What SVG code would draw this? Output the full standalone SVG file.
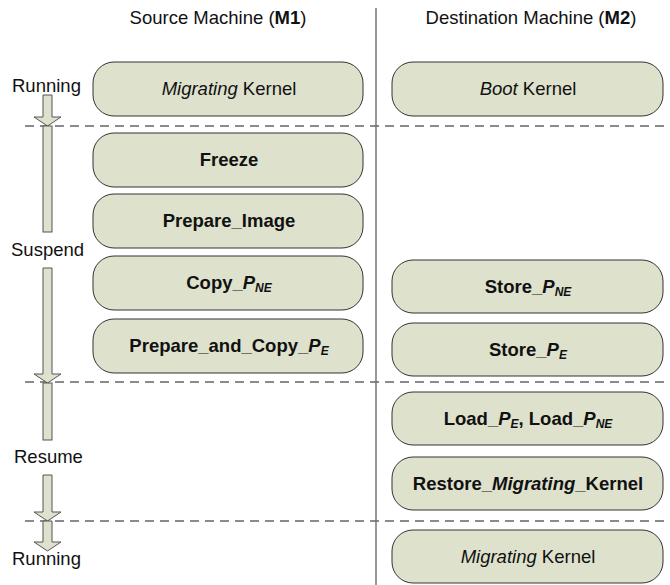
<svg xmlns="http://www.w3.org/2000/svg" width="670" height="585" viewBox="0 0 670 585">
  <style>
    text { font-family: "Liberation Sans", Arial, sans-serif; fill: #111; }
    .title { font-size: 18.5px; }
    .state { font-size: 18.5px; }
    .box { fill: #dee2cc; stroke: #333; stroke-width: 1; }
    .lbl { font-size: 18.5px; text-anchor: middle; }
    .b { font-weight: bold; }
    .i { font-style: italic; }
    .sub { font-size: 12px; font-style: italic; font-weight: bold; }
    .sep { stroke: #666; stroke-width: 1.5; stroke-dasharray: 9 6; fill: none; }
    .divider { stroke: #777; stroke-width: 1.5; fill: none; }
    .flow { fill: #dee2cc; stroke: #555; stroke-width: 1; }
  </style>

  <!-- column headings -->
  <g id="headings">
    <text class="title" x="218" y="24" text-anchor="middle">Source Machine (<tspan class="b">M1</tspan>)</text>
    <text class="title" x="531" y="24" text-anchor="middle">Destination Machine (<tspan class="b">M2</tspan>)</text>
  </g>

  <!-- machine divider and phase separators -->
  <g id="separators">
    <line class="divider" x1="376" y1="8" x2="376" y2="585"/>
    <line class="sep" x1="25" y1="126" x2="670" y2="126"/>
    <line class="sep" x1="25" y1="382" x2="670" y2="382"/>
    <line class="sep" x1="25" y1="521" x2="670" y2="521"/>
  </g>

  <!-- state labels -->
  <g id="states">
    <text class="state" x="12" y="92">Running</text>
    <text class="state" x="11" y="256">Suspend</text>
    <text class="state" x="14" y="463">Resume</text>
    <text class="state" x="12" y="565">Running</text>
  </g>

  <!-- state flow arrows -->
  <g id="connectors">
    <path class="flow" d="M43,95 H52 V117 H61 L47.5,126 L34,117 H43 Z"/>
    <rect class="flow" x="43" y="126" width="9" height="106"/>
    <path class="flow" d="M43,268 H52 V374 H61 L47.5,383 L34,374 H43 Z"/>
    <rect class="flow" x="43" y="383" width="9" height="57"/>
    <path class="flow" d="M43,475 H52 V512 H61 L47.5,521 L34,512 H43 Z"/>
    <path class="flow" d="M43,521 H52 V542 H61 L47.5,551 L34,542 H43 Z"/>
  </g>

  <!-- source machine steps -->
  <g id="m1-migrating-kernel">
    <rect class="box" x="93" y="62" width="270" height="54" rx="21"/>
    <text class="lbl" x="229" y="95"><tspan class="i">Migrating</tspan> Kernel</text>
  </g>
  <g id="m1-freeze">
    <rect class="box" x="93" y="133" width="270" height="54" rx="21"/>
    <text class="lbl b" x="229" y="166">Freeze</text>
  </g>
  <g id="m1-prepare-image">
    <rect class="box" x="93" y="194" width="270" height="54" rx="21"/>
    <text class="lbl b" x="229" y="227">Prepare_Image</text>
  </g>
  <g id="m1-copy-pne">
    <rect class="box" x="93" y="256" width="270" height="54" rx="21"/>
    <text class="lbl b" x="229" y="289">Copy_<tspan class="i">P</tspan><tspan class="sub" dy="3">NE</tspan></text>
  </g>
  <g id="m1-prepare-copy-pe">
    <rect class="box" x="93" y="319" width="270" height="54" rx="21"/>
    <text class="lbl b" x="229" y="352">Prepare_and_Copy_<tspan class="i">P</tspan><tspan class="sub" dy="3">E</tspan></text>
  </g>

  <!-- destination machine steps -->
  <g id="m2-boot-kernel">
    <rect class="box" x="392" y="62" width="271" height="54" rx="21"/>
    <text class="lbl" x="528" y="95"><tspan class="i">Boot</tspan> Kernel</text>
  </g>
  <g id="m2-store-pne">
    <rect class="box" x="392" y="260" width="271" height="53" rx="21"/>
    <text class="lbl b" x="528" y="293">Store_<tspan class="i">P</tspan><tspan class="sub" dy="3">NE</tspan></text>
  </g>
  <g id="m2-store-pe">
    <rect class="box" x="392" y="323" width="271" height="53" rx="21"/>
    <text class="lbl b" x="528" y="356">Store_<tspan class="i">P</tspan><tspan class="sub" dy="3">E</tspan></text>
  </g>
  <g id="m2-load">
    <rect class="box" x="392" y="392" width="271" height="53" rx="21"/>
    <text class="lbl b" x="528" y="425">Load_<tspan class="i">P</tspan><tspan class="sub" dy="3">E</tspan><tspan dy="-3">, Load_</tspan><tspan class="i">P</tspan><tspan class="sub" dy="3">NE</tspan></text>
  </g>
  <g id="m2-restore">
    <rect class="box" x="392" y="457" width="271" height="53" rx="21"/>
    <text class="lbl b" x="528" y="490">Restore_<tspan class="i">Migrating</tspan>_Kernel</text>
  </g>
  <g id="m2-migrating-kernel">
    <rect class="box" x="392" y="530" width="271" height="53" rx="21"/>
    <text class="lbl" x="528" y="563"><tspan class="i">Migrating</tspan> Kernel</text>
  </g>
</svg>
